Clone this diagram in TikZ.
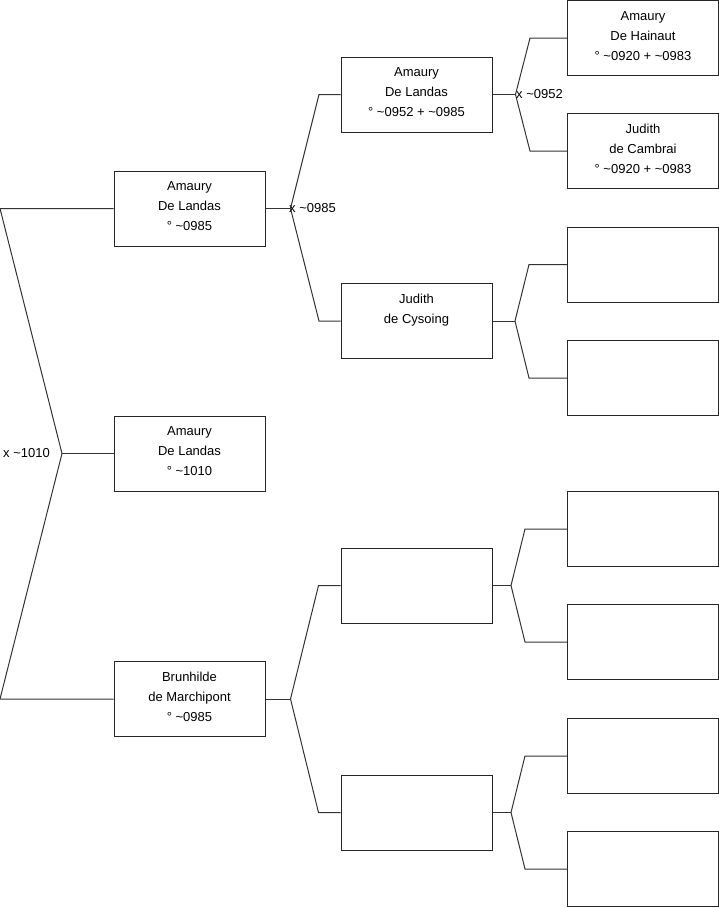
\documentclass[tikz,border=0pt]{standalone}
\usepackage{fontspec}
\setmainfont{Liberation Sans}
\begin{document}
\begin{tikzpicture}[x=1pt,y=-1pt,
  pbox/.style={draw=black!85, line width=1pt, minimum width=151pt, minimum height=75pt, inner sep=0pt},
  ptext/.style={anchor=north, align=center, inner sep=0pt, font=\fontsize{13}{20}\selectfont},
  conn/.style={draw=black!80, line width=1pt},
  lbl/.style={inner sep=0pt, anchor=west, font=\fontsize{13}{20}\selectfont}]
\useasboundingbox (0,0) rectangle (719,908);
% generation 1
\node[pbox] (g1a) at (189.5,208.5) {};
\node[pbox] (g1b) at (189.5,453.5) {};
\node[pbox] (g1c) at (189.5,699) {};
% generation 2
\node[pbox] (g2a) at (416.5,94.5) {};
\node[pbox] (g2b) at (416.5,321) {};
\node[pbox] (g2c) at (416.5,585.5) {};
\node[pbox] (g2d) at (416.5,812.5) {};
% generation 3
\node[pbox] (g3a) at (643,38) {};
\node[pbox] (g3b) at (643,151) {};
\node[pbox] (g3c) at (643,264.5) {};
\node[pbox] (g3d) at (643,378) {};
\node[pbox] (g3e) at (643,529) {};
\node[pbox] (g3f) at (643,642) {};
\node[pbox] (g3g) at (643,756) {};
\node[pbox] (g3h) at (643,869) {};
% texts
\node[ptext] (t1a) at ([yshift=-11pt]g1a.north) {Amaury\\De Landas\\° \textasciitilde0985};
\node[ptext] (t1b) at ([yshift=-11pt]g1b.north) {Amaury\\De Landas\\° \textasciitilde1010};
\node[ptext] (t1c) at ([yshift=-11pt]g1c.north) {Brunhilde\\de Marchipont\\° \textasciitilde0985};
\node[ptext] (t2a) at ([yshift=-11pt]g2a.north) {Amaury\\De Landas\\° \textasciitilde0952 + \textasciitilde0985};
\node[ptext] (t2b) at ([yshift=-11pt]g2b.north) {Judith\\de Cysoing};
\node[ptext] (t3a) at ([yshift=-11pt]g3a.north) {Amaury\\De Hainaut\\° \textasciitilde0920 + \textasciitilde0983};
\node[ptext] (t3b) at ([yshift=-11pt]g3b.north) {Judith\\de Cambrai\\° \textasciitilde0920 + \textasciitilde0983};
% junctions
\coordinate (j0) at (62,453.5);
\coordinate (j1) at (290.5,208.5);
\coordinate (j2) at (290.5,699);
\coordinate (j3) at (515.5,94.5);
\coordinate (j4) at (515,321);
\coordinate (j5) at (511,585.5);
\coordinate (j6) at (511,812.5);
% connectors
\draw[conn] (g1b.west) -- (j0);
\draw[conn] (g1a.west) -- ++(-113.5,0) -- (j0) -- ([xshift=-113.5pt]g1c.west) -- (g1c.west);
\draw[conn] (g1a.east) -- (j1);
\draw[conn] (g2a.west) -- ++(-21.5,0) -- (j1) -- ([xshift=-21.5pt]g2b.west) -- (g2b.west);
\draw[conn] (g1c.east) -- (j2);
\draw[conn] (g2c.west) -- ++(-22,0) -- (j2) -- ([xshift=-22pt]g2d.west) -- (g2d.west);
\draw[conn] (g2a.east) -- (j3);
\draw[conn] (g3a.west) -- ++(-37,0) -- (j3) -- ([xshift=-37pt]g3b.west) -- (g3b.west);
\draw[conn] (g2b.east) -- (j4);
\draw[conn] (g3c.west) -- ++(-38,0) -- (j4) -- ([xshift=-38pt]g3d.west) -- (g3d.west);
\draw[conn] (g2c.east) -- (j5);
\draw[conn] (g3e.west) -- ++(-42,0) -- (j5) -- ([xshift=-42pt]g3f.west) -- (g3f.west);
\draw[conn] (g2d.east) -- (j6);
\draw[conn] (g3g.west) -- ++(-42,0) -- (j6) -- ([xshift=-42pt]g3h.west) -- (g3h.west);
% labels
\node[lbl] (l0) at (3,453.5) {x \textasciitilde1010};
\node[lbl] (l1) at (289,208.5) {x \textasciitilde0985};
\node[lbl] (l2) at (516,94.5) {x \textasciitilde0952};
\end{tikzpicture}
\end{document}
